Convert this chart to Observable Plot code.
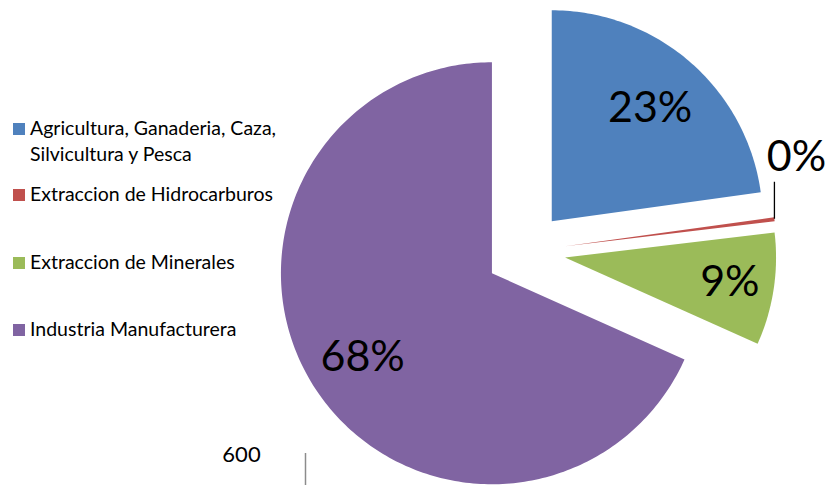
<!DOCTYPE html>
<html>
<head>
<meta charset="utf-8">
<script src="https://cdn.jsdelivr.net/npm/d3@7"></script>
<script src="https://cdn.jsdelivr.net/npm/@observablehq/plot@0.6"></script>
<style>
  html, body { margin: 0; padding: 0; background: #fff; }
  #wrap { position: relative; width: 831px; height: 485px; overflow: hidden; font-family: Lato, "Open Sans", sans-serif; }
  #chart { position: absolute; left: 0; top: 0; }
  .leg { position: absolute; left: 30px; font-size: 19.5px; line-height: 26px; color: #000; width: 262px; }
  .sw { position: absolute; left: 13px; width: 12px; height: 12px; }
</style>
</head>
<body>
<div id="wrap"><div id="chart"></div></div>
<script>
// ---- data ----
const categories = [
  "Agricultura, Ganaderia, Caza, Silvicultura y Pesca",
  "Extraccion de Hidrocarburos",
  "Extraccion de Minerales",
  "Industria Manufacturera"
];
const shares = [22.8, 0.3, 8.6, 68.3];
const colors = ["#4F81BD", "#C0504D", "#9BBB59", "#8064A2"];
const strayTickLabel = "600";

// ---- layout (pixels) ----
const W = 831, H = 485;
const cx = 525, cy = 251, R = 211, explode = 40;
const labelRadius = [0.71, null, 0.79, 0.73];
const legendTops = [115, 181, 249, 316];
const ux = px => (px - cx) / R;
const uy = py => (cy - py) / R;

const arcs = d3.pie().sort(null).value(d => d)(shares);
const polys = [];
const labels = [];
const leaders = [];
arcs.forEach((a, i) => {
  const mid = (a.startAngle + a.endAngle) / 2;
  const ox = (explode / R) * Math.sin(mid), oy = (explode / R) * Math.cos(mid);
  const n = Math.max(2, Math.ceil((a.endAngle - a.startAngle) * 180 / Math.PI));
  polys.push({key: categories[i], x: ox, y: oy});
  for (let k = 0; k <= n; k++) {
    const t = a.startAngle + (a.endAngle - a.startAngle) * k / n;
    polys.push({key: categories[i], x: ox + Math.sin(t), y: oy + Math.cos(t)});
  }
  polys.push({key: categories[i], x: ox, y: oy});
  const text = Math.round(shares[i]) + "%";
  if (labelRadius[i] != null) {
    labels.push({text, x: ox + labelRadius[i] * Math.sin(mid), y: oy + labelRadius[i] * Math.cos(mid)});
  } else {
    const sx = ox + Math.sin(mid), sy = oy + Math.cos(mid);
    const ey = sy + 37 / R;
    leaders.push({x: sx, y1: sy, y2: ey});
    labels.push({text, x: sx + 22 / R, y: ey + 25 / R});
  }
});

const chart = Plot.plot({
  width: W, height: H,
  margin: 0,
  x: {axis: null, domain: [ux(0), ux(W)]},
  y: {axis: null, domain: [uy(H), uy(0)]},
  color: {domain: categories, range: colors},
  style: {fontFamily: "Lato, 'Open Sans', sans-serif", background: "white", color: "black"},
  marks: [
    Plot.line(polys, {x: "x", y: "y", z: "key", fill: "key", stroke: "none", curve: "linear"}),
    Plot.ruleX(leaders, {x: "x", y1: "y1", y2: "y2", stroke: "black", strokeWidth: 1.3}),
    Plot.text(labels, {x: "x", y: "y", text: "text", fontSize: 43, fill: "black"}),
    Plot.text([strayTickLabel], {x: ux(241), y: uy(454), text: d => d, fontSize: 22, fill: "black"}),
    Plot.ruleX([ux(305)], {y1: uy(453), y2: uy(H), stroke: "#8c8c8c", strokeWidth: 1.5})
  ]
});
document.getElementById("chart").appendChild(chart);

const wrap = document.getElementById("wrap");
categories.forEach((c, i) => {
  const sw = document.createElement("div");
  sw.className = "sw";
  sw.style.top = (legendTops[i] + 8) + "px";
  sw.style.background = colors[i];
  wrap.appendChild(sw);
  const t = document.createElement("div");
  t.className = "leg";
  t.style.top = legendTops[i] + "px";
  t.textContent = c;
  wrap.appendChild(t);
});
</script>
</body>
</html>
